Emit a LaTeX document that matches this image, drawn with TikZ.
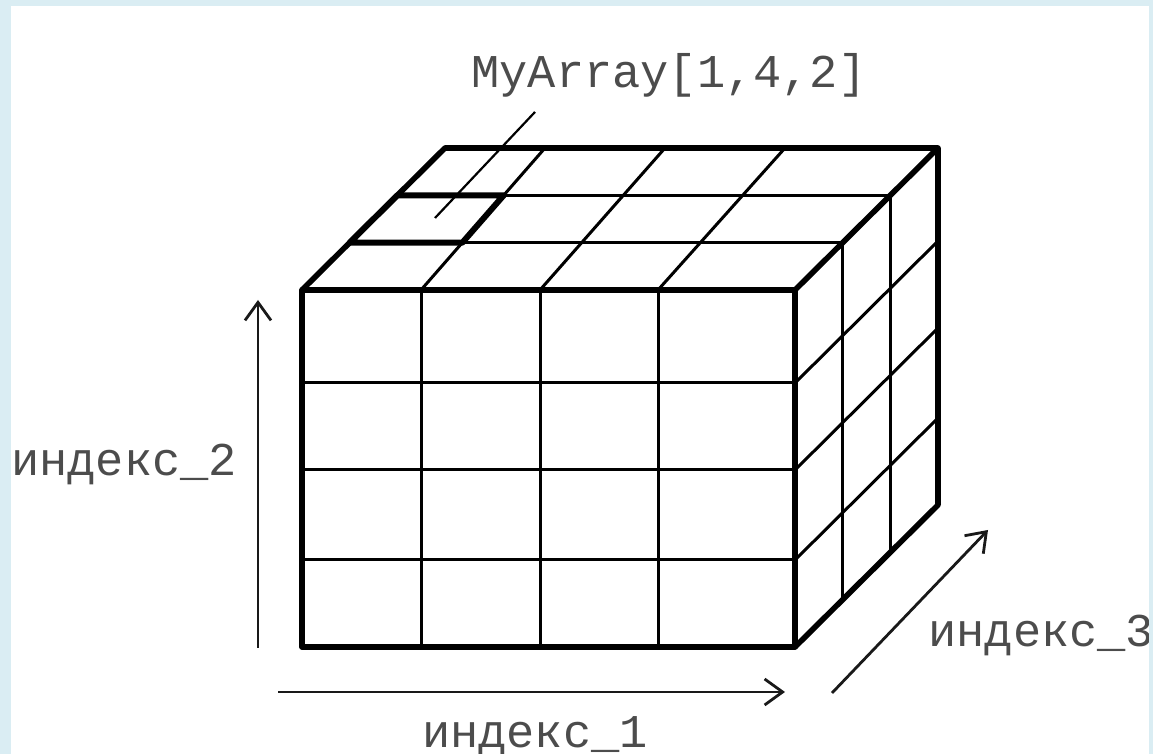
\documentclass[tikz,border=0pt]{standalone}
\usepackage{fontspec}
\setmonofont{Liberation Mono}
\usepackage{tikz}
\usetikzlibrary{arrows.meta,positioning}
\definecolor{frameblue}{HTML}{DAEDF3}

\begin{document}
\begin{tikzpicture}[x=0.5pt, y=0.5pt, line join=round,
    gridline/.style={draw=black, line width=1.5pt},
    edgeline/.style={draw=black, line width=2.8pt},
    axis/.style={->, >={Straight Barb[length=9pt,width=13pt]}, line width=1.4pt, draw=black!90},
    lbl/.style={font=\ttfamily\fontsize{23.5}{28}\selectfont, text=black!70, inner sep=0pt}]
   \useasboundingbox (0,0) rectangle (1153,754);

   % front face
   \foreach \x in {421,540,658}
    \draw[gridline] (\x,107) -- (\x,464);
   \foreach \y in {194,284,371}
    \draw[gridline] (302,\y) -- (795,\y);
   % top face
   \draw[gridline] (349.7,511.3) -- (842.7,511.3);
   \draw[gridline] (397.3,558.7) -- (890.3,558.7);
   \foreach \a/\b in {421/545,540/665,658/785}
    \draw[gridline] (\a,464) -- (\b,606);
   % right face
   \draw[gridline] (842.7,154.3) -- (842.7,511.3);
   \draw[gridline] (890.3,201.7) -- (890.3,558.7);
   \foreach \y in {194,284,371}
    \draw[gridline] (795,\y) -- ++(143,142);

   % cell [1,4,2]
   \draw[edgeline, line width=3pt] (349.7,511.3) -- (462.3,511.3) -- (503.7,558.7) -- (397.3,558.7) -- cycle;

   % outline
   \draw[edgeline] (302,107) rectangle (795,464);
   \draw[edgeline] (302,464) -- (445,606) -- (938,606) -- (938,249) -- (795,107);
   \draw[edgeline] (795,464) -- (938,606);

   \begin{scope}[every node/.style={lbl}]
    \node (arr) [anchor=base] at (669,666) {MyArray[1,4,2]};
    \node (i2) [anchor=base west] at (11,278) {индекс\_2};
    \node (i3) [anchor=base west] at (928,107) {индекс\_3};
    \node (i1) [anchor=base] at (535,6) {индекс\_1};
   \end{scope}

   \coordinate (cell) at (435,536);
   \coordinate (lead) at (535,642);
   \draw[gridline, line width=1.1pt] (cell) -- (lead);

   \coordinate (a1s) at (278,62);
   \coordinate (a1e) at (785,62);
   \coordinate (a2s) at (258,106);
   \coordinate (a2e) at (258,454);
   \coordinate (a3s) at (832,61);
   \coordinate (a3e) at (988,224);
   \draw[axis] (a1s) -- (a1e);
   \draw[axis] (a2s) -- (a2e);
   \draw[axis] (a3s) -- (a3e);

   \fill[frameblue] (0,0) rectangle (11,754);
   \fill[frameblue] (0,748) rectangle (1153,754);
   \fill[frameblue] (1149,0) rectangle (1153,754);
\end{tikzpicture}
\end{document}
